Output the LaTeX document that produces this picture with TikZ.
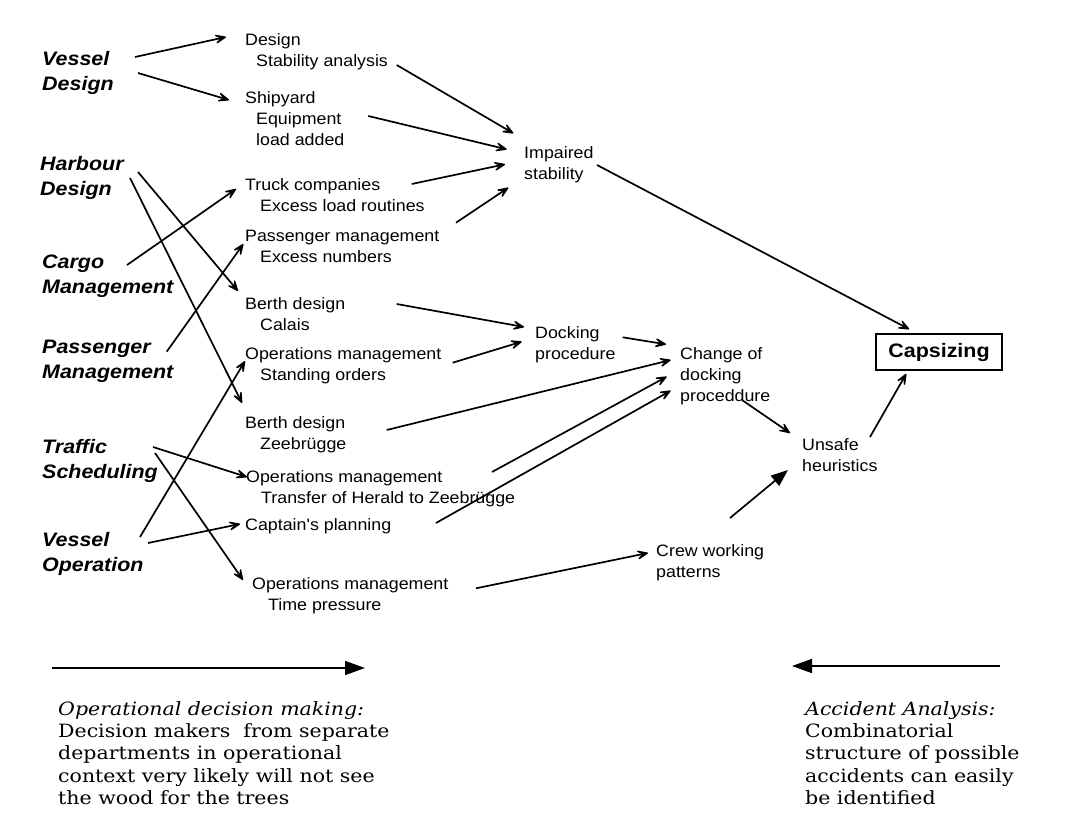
\documentclass[tikz,border=0pt]{standalone}
\usepackage{fontspec}
\usetikzlibrary{arrows.meta}
\newfontfamily\nfont[FakeStretch=1.08]{Liberation Sans}
\newfontfamily\lfont[FakeStretch=1.1]{Liberation Sans}
\newfontfamily\serfont[FakeStretch=1.12]{DejaVu Serif}
\tikzset{
  lab/.style={anchor=north west, inner sep=0pt, align=left, font=\nfont\fontsize{16.5}{21}\selectfont},
  cat/.style={anchor=north west, inner sep=0pt, align=left, font=\lfont\bfseries\itshape\fontsize{19.5}{25}\selectfont},
  note/.style={anchor=north west, inner sep=0pt, align=left, font=\serfont\fontsize{18.3}{22.3}\selectfont},
  conn/.style={line width=1.7pt, -{Stealth[length=16pt,width=13pt,inset=9pt,line width=1.4pt,round]}},
  fconn/.style={line width=1.7pt, -{Triangle[length=17pt,width=13pt]}},
  bigarrow/.style={line width=1.6pt, -{Triangle[length=20pt,width=14pt]}},
  capsbox/.style={draw, line width=1.6pt, minimum width=126pt, minimum height=36pt, inner sep=0pt, font=\lfont\bfseries\fontsize{19.5}{25}\selectfont}
}
\begin{document}
\begin{tikzpicture}[x=1pt,y=-1pt]
\useasboundingbox (0,0) rectangle (1066,832);
% categories
\node[cat] (vd) at (42,47.5) {\strut Vessel\\\strut Design};
\node[cat] (hd) at (40,152.5) {\strut Harbour\\\strut Design};
\node[cat] (cm) at (42,250.5) {\strut Cargo\\\strut Management};
\node[cat] (pm) at (42,335.5) {\strut Passenger\\\strut Management};
\node[cat] (ts) at (42,435.5) {\strut Traffic\\\strut Scheduling};
\node[cat] (vo) at (42,529) {\strut Vessel\\\strut Operation};
% decision nodes
\node[lab] (design) at (245,30.3) {\strut Design\\\hspace*{11pt}\strut Stability analysis};
\node[lab] (shipyard) at (245,88.3) {\strut Shipyard\\\hspace*{11pt}\strut Equipment\\\hspace*{11pt}\strut load added};
\node[lab] (truck) at (245,175.3) {\strut Truck companies\\\hspace*{15pt}\strut Excess load routines};
\node[lab] (passmgmt) at (245,226.8) {\strut Passenger management\\\hspace*{15pt}\strut Excess numbers};
\node[lab] (berthC) at (245,294.3) {\strut Berth design\\\hspace*{15pt}\strut Calais};
\node[lab] (opsS) at (245,344.3) {\strut Operations management\\\hspace*{15pt}\strut Standing orders};
\node[lab] (berthZ) at (245,413.3) {\strut Berth design\\\hspace*{15pt}\strut Zeebrügge};
\node[lab] (opsT) at (246,467.3) {\strut Operations management\\\hspace*{15pt}\strut Transfer of Herald to Zeebrügge};
\node[lab] (captain) at (245,515.3) {\strut Captain's planning};
\node[lab] (opsTP) at (252,574.8) {\strut Operations management\\\hspace*{16pt}\strut Time pressure};
% consequences
\node[lab] (impaired) at (524,143.3) {\strut Impaired\\\strut stability};
\node[lab] (docking) at (535,323.6) {\strut Docking\\\strut procedure};
\node[lab] (change) at (680,344.6) {\strut Change of\\\strut docking\\\strut proceddure};
\node[lab] (unsafe) at (802,435.3) {\strut Unsafe\\\strut heuristics};
\node[lab] (crew) at (656,541.3) {\strut Crew working\\\strut patterns};
\node[capsbox] (caps) at (939,352) {Capsizing};
% connectors from categories
\draw[conn] ([shift={(93,9.5)}]vd.north west) -- ([shift={(-19,6.7)}]design.north west);
\draw[conn] ([shift={(96,25.5)}]vd.north west) -- ([shift={(-16,11.7)}]shipyard.north west);
\draw[conn] ([shift={(98,19.5)}]hd.north west) -- ([shift={(-7,-3.3)}]berthC.north west);
\draw[conn] ([shift={(90,25.5)}]hd.north west) -- ([shift={(-3,-10.3)}]berthZ.north west);
\draw[conn] ([shift={(85,14.5)}]cm.north west) -- ([shift={(-9,13.7)}]truck.north west);
\draw[conn] ([shift={(124.7,16.2)}]pm.north west) -- ([shift={(-1.7,17.2)}]passmgmt.north west);
\draw[conn] ([shift={(111,11.5)}]ts.north west) -- ([shift={(1,9.7)}]opsT.north west);
\draw[conn] ([shift={(113,17.5)}]ts.north west) -- ([shift={(-9,5.2)}]opsTP.north west);
\draw[conn] ([shift={(98,8)}]vo.north west) -- ([shift={(0,16.7)}]opsS.north west);
\draw[conn] ([shift={(106,14)}]vo.north west) -- ([shift={(-5,8.7)}]captain.north west);
% middle connectors
\draw[conn] ([shift={(151.7,34.7)}]design.north west) -- ([shift={(-10.7,-10)}]impaired.north west);
\draw[conn] ([shift={(123.3,27.7)}]shipyard.north west) -- ([shift={(-17.3,6)}]impaired.north west);
\draw[conn] ([shift={(166.7,8.7)}]truck.north west) -- ([shift={(-19,21)}]impaired.north west);
\draw[conn] ([shift={(211,-4.1)}]passmgmt.north west) -- ([shift={(-15.7,44.4)}]impaired.north west);
\draw[conn] ([shift={(151.7,9.7)}]berthC.north west) -- ([shift={(-11,3.4)}]docking.north west);
\draw[conn] ([shift={(207.7,18.4)}]opsS.north west) -- ([shift={(-13.3,18.1)}]docking.north west);
\draw[conn] ([shift={(87.7,13.7)}]docking.north west) -- ([shift={(-14,-0.3)}]change.north west);
\draw[conn] ([shift={(141.7,16.7)}]berthZ.north west) -- ([shift={(-9.3,15.4)}]change.north west);
\draw[conn] ([shift={(246,4.7)}]opsT.north west) -- ([shift={(-13.3,32.1)}]change.north west);
\draw[conn] ([shift={(191,7.7)}]captain.north west) -- ([shift={(-9.3,46.1)}]change.north west);
\draw[conn] ([shift={(62,55.4)}]change.north west) -- ([shift={(-12,-2.3)}]unsafe.north west);
\draw[fconn] ([shift={(74,-23.3)}]crew.north west) -- ([shift={(-14,34.7)}]unsafe.north west);
\draw[conn] ([shift={(68,1.7)}]unsafe.north west) -- ([shift={(31,3)}]caps.south west);
\draw[conn] ([shift={(73,21.7)}]impaired.north west) -- ([shift={(34,-4)}]caps.north west);
\draw[conn] ([shift={(224,13.5)}]opsTP.north west) -- ([shift={(-8,11.7)}]crew.north west);
% bottom arrows and notes
\coordinate (la) at (52,668);
\coordinate (lb) at (365,668);
\coordinate (ra) at (1000,666);
\coordinate (rb) at (792,666);
\draw[bigarrow] (la) -- (lb);
\draw[bigarrow] (ra) -- (rb);
\node[note] (opnote) at (58,699.4) {\strut\textit{Operational decision making:}\\\strut Decision makers\ \ from separate\\\strut departments in operational\\\strut context very likely will not see\\\strut the wood for the trees};
\node[note] (acnote) at (805,699.4) {\strut\textit{Accident Analysis:}\\\strut Combinatorial\\\strut structure of possible\\\strut accidents can easily\\\strut be identified};
\end{tikzpicture}
\end{document}
